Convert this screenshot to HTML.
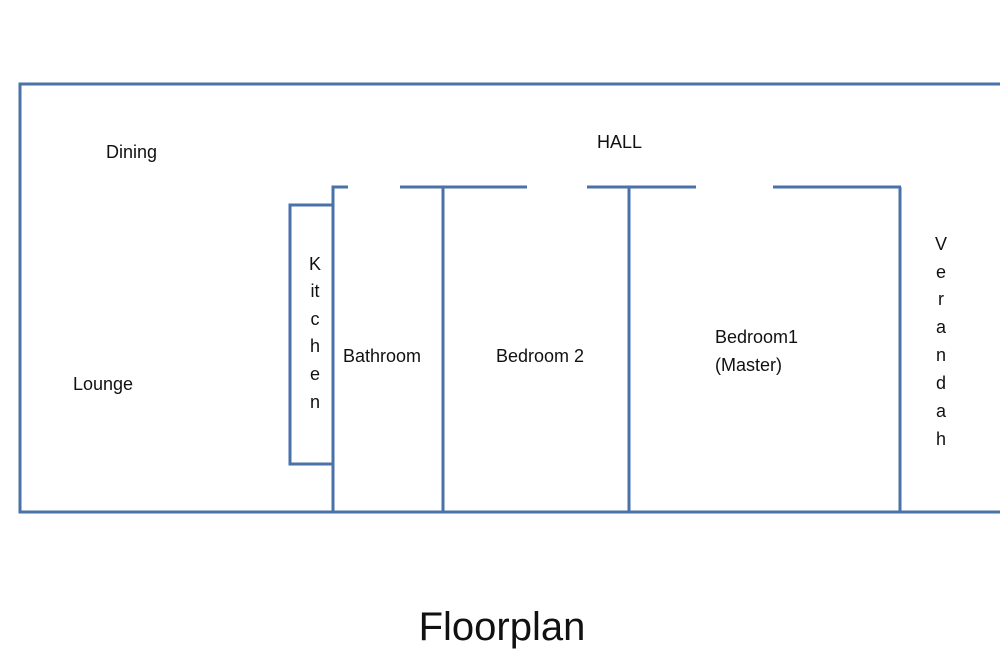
<!DOCTYPE html>
<html><head><style>
body{margin:0;background:#fff;width:1000px;height:666px;overflow:hidden}
</style></head><body>
<svg width="1000" height="666" xmlns="http://www.w3.org/2000/svg" font-family="Liberation Sans, sans-serif">
<g stroke="#4a72a8" stroke-width="3" fill="none">
<rect x="20" y="84" width="990" height="428"/>
<polyline points="333,512 333,187 348,187"/>
<polyline points="332,205 290,205 290,464 332,464"/>
<line x1="400" y1="187" x2="527" y2="187"/>
<line x1="587" y1="187" x2="696" y2="187"/>
<line x1="773" y1="187" x2="901" y2="187"/>
<line x1="443" y1="187" x2="443" y2="512"/>
<line x1="629" y1="187" x2="629" y2="512"/>
<line x1="900" y1="187" x2="900" y2="512"/>
</g>
<g font-size="18" fill="#111">
<text x="106" y="158">Dining</text>
<text x="597" y="148">HALL</text>
<text x="73" y="390">Lounge</text>
<text x="343" y="362">Bathroom</text>
<text x="496" y="362">Bedroom 2</text>
<text x="715" y="343">Bedroom1</text>
<text x="715" y="371">(Master)</text>
<text text-anchor="middle"><tspan x="315" y="270">K</tspan><tspan x="315" y="297">it</tspan><tspan x="315" y="325">c</tspan><tspan x="315" y="352">h</tspan><tspan x="315" y="380">e</tspan><tspan x="315" y="408">n</tspan></text>
<text text-anchor="middle"><tspan x="941" y="250">V</tspan><tspan x="941" y="278">e</tspan><tspan x="941" y="305">r</tspan><tspan x="941" y="333">a</tspan><tspan x="941" y="361">n</tspan><tspan x="941" y="389">d</tspan><tspan x="941" y="417">a</tspan><tspan x="941" y="445">h</tspan></text>
</g>
<text x="502" y="640" font-size="40" text-anchor="middle" fill="#111">Floorplan</text>
</svg>
</body></html>
